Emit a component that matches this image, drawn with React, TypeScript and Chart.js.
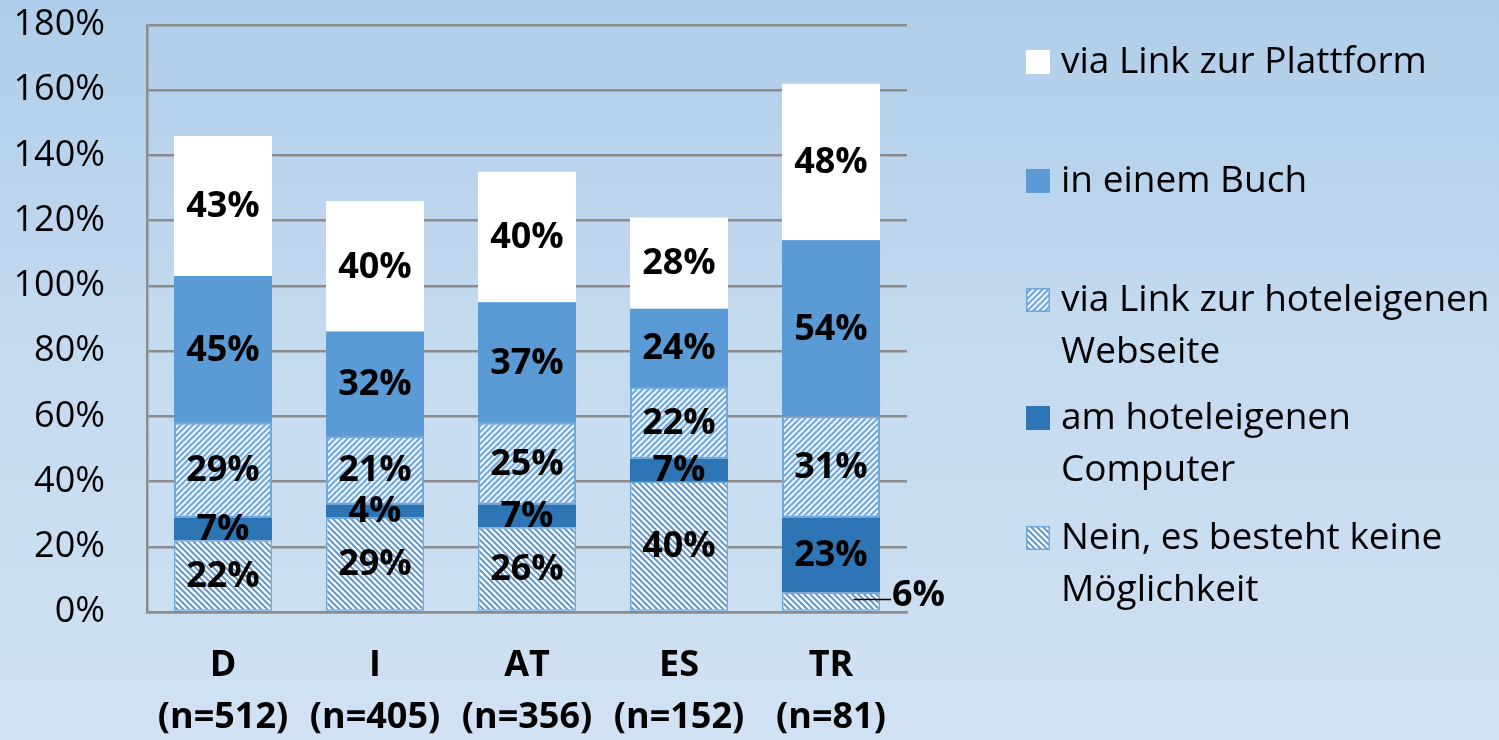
import { useEffect, useRef } from "react";
import { Chart, registerables } from "chart.js";

Chart.register(...registerables);

// ---- data ----
const categories: string[][] = [
  ["D", "(n=512)"],
  ["I", "(n=405)"],
  ["AT", "(n=356)"],
  ["ES", "(n=152)"],
  ["TR", "(n=81)"],
];
const seriesNames = [
  "Nein, es besteht keine Möglichkeit",
  "am hoteleigenen Computer",
  "via Link zur hoteleigenen Webseite",
  "in einem Buch",
  "via Link zur Plattform",
];
const nein = [22, 29, 26, 40, 6];
const computer = [7, 4, 7, 7, 23];
const webseite = [29, 21, 25, 22, 31];
const buch = [45, 32, 37, 24, 54];
const plattform = [43, 40, 40, 28, 48];
const yMax = 180;
const yStep = 20;
// legend entries, top to bottom (reverse of stacking order), wrapped as in the reference
const legendLines: string[][] = [
  ["via Link zur Plattform"],
  ["in einem Buch"],
  ["via Link zur hoteleigenen", "Webseite"],
  ["am hoteleigenen", "Computer"],
  ["Nein, es besteht keine", "Möglichkeit"],
];
// label drawn outside the bar with a leader line: [datasetIndex, categoryIndex]
const outsideLabels: [number, number][] = [[0, 4]];

const FONT = "'Open Sans', 'Noto Sans', sans-serif";

function makePattern(dir: "/" | "\\", lineColor: string, bg: string, size: number, lw: number) {
  const c = document.createElement("canvas");
  c.width = size;
  c.height = size;
  const g = c.getContext("2d")!;
  g.fillStyle = bg;
  g.fillRect(0, 0, size, size);
  g.strokeStyle = lineColor;
  g.lineWidth = lw;
  g.beginPath();
  for (let k = -1; k <= 1; k++) {
    const o = k * size;
    if (dir === "/") {
      g.moveTo(o - 1, size + 1);
      g.lineTo(o + size + 1, -1);
    } else {
      g.moveTo(o - 1, -1);
      g.lineTo(o + size + 1, size + 1);
    }
  }
  g.stroke();
  return g.createPattern(c, "repeat")!;
}

export default function App() {
  const ref = useRef<HTMLCanvasElement>(null);

  useEffect(() => {
    document.body.style.margin = "0";
    const webPattern = makePattern("/", "#7BAEDF", "#FFFFFF", 6, 2.6);
    const neinPattern = makePattern("\\", "#5B9BD5", "#FFFFFF", 6, 2.0);

    const fills = [neinPattern, "#2E75B6", webPattern, "#5B9BD5", "#FFFFFF"];
    const borders = ["#6FA8DC", "#2E75B6", "#6FA8DC", "#5B9BD5", "#FFFFFF"];
    const borderWidths = [1.5, 0, 2, 0, 0];
    const values = [nein, computer, webseite, buch, plattform];

    const labelPlugin = {
      id: "segLabels",
      afterDatasetsDraw(chart: any) {
        const ctx = chart.ctx;
        ctx.save();
        ctx.font = `bold 36px ${FONT}`;
        ctx.fillStyle = "#000";
        ctx.textBaseline = "middle";
        chart.data.datasets.forEach((ds: any, di: number) => {
          const meta = chart.getDatasetMeta(di);
          meta.data.forEach((bar: any, i: number) => {
            const v = ds.data[i];
            const { x, y, base, width } = bar.getProps(["x", "y", "base", "width"], true);
            const mid = (y + base) / 2;
            const out = outsideLabels.some(([a, b]) => a === di && b === i);
            if (out) {
              ctx.strokeStyle = "#000";
              ctx.lineWidth = 1.5;
              ctx.beginPath();
              ctx.moveTo(x + width * 0.23, mid - 2);
              ctx.lineTo(x + width / 2 + 11, mid - 2);
              ctx.stroke();
              ctx.textAlign = "left";
              ctx.fillText(v + "%", x + width / 2 + 12, mid - 6);
            } else {
              ctx.textAlign = "center";
              ctx.fillText(v + "%", x, mid + 1);
            }
          });
        });
        ctx.restore();
      },
    };

    const legendPlugin = {
      id: "sideLegend",
      afterDraw(chart: any) {
        const ctx = chart.ctx;
        const area = chart.chartArea;
        const sx = area.right + 119;
        const tx = area.right + 154;
        const firstY = [62, 181, 300, 418, 538];
        ctx.save();
        ctx.font = `37px ${FONT}`;
        ctx.textBaseline = "middle";
        ctx.textAlign = "left";
        legendLines.forEach((lines, k) => {
          const di = values.length - 1 - k;
          const cy = area.top + (firstY[k] - 25);
          ctx.fillStyle = fills[di];
          ctx.fillRect(sx, cy - 12, 24, 24);
          if (borderWidths[di] > 0) {
            ctx.strokeStyle = borders[di];
            ctx.lineWidth = 1.5;
            ctx.strokeRect(sx + 0.75, cy - 12 + 0.75, 22.5, 22.5);
          }
          ctx.fillStyle = "#000";
          lines.forEach((t, li) => ctx.fillText(t, tx, cy + li * 52));
        });
        ctx.restore();
      },
    };

    const chart = new Chart(ref.current!, {
      type: "bar",
      data: {
        labels: categories,
        datasets: values.map((vals, di) => ({
          label: seriesNames[di],
          data: vals,
          backgroundColor: fills[di] as any,
          borderColor: borders[di],
          borderWidth: borderWidths[di],
          borderSkipped: false,
          categoryPercentage: 1,
          barPercentage: 0.645,
        })),
      },
      options: {
        animation: false,
        responsive: true,
        maintainAspectRatio: false,
        layout: { padding: { left: 0, right: 592, top: 25, bottom: 0 } },
        plugins: {
          legend: { display: false },
          tooltip: { enabled: false },
        },
        scales: {
          x: {
            stacked: true,
            grid: { display: false, drawTicks: false },
            border: { display: true, color: "#8C8C8C", width: 2.5 },
            ticks: {
              color: "#000",
              font: { family: FONT, size: 36, weight: "bold", lineHeight: 1.444 },
              padding: 28,
              maxRotation: 0,
              autoSkip: false,
            },
            afterFit: (s: any) => {
              s.height = 128;
            },
          },
          y: {
            stacked: true,
            min: 0,
            max: yMax,
            grid: { color: "#8C8C8C", lineWidth: 2.5, drawTicks: false },
            border: { display: true, color: "#8C8C8C", width: 2.5 },
            ticks: {
              stepSize: yStep,
              color: "#000",
              font: { family: FONT, size: 36 },
              padding: 42,
              callback: (v: any) => v + "%",
            },
            afterFit: (s: any) => {
              s.width = 147;
              s.paddingTop = 20;
              s.paddingBottom = 20;
            },
          },
        },
      },
      plugins: [labelPlugin, legendPlugin],
    });
    return () => chart.destroy();
  }, []);

  return (
    <div
      style={{
        width: 1499,
        height: 740,
        position: "relative",
        background: "linear-gradient(180deg, #AFCDEA 0%, #C4DAEF 45%, #D0E2F3 100%)",
      }}
    >
      <canvas ref={ref} />
    </div>
  );
}
